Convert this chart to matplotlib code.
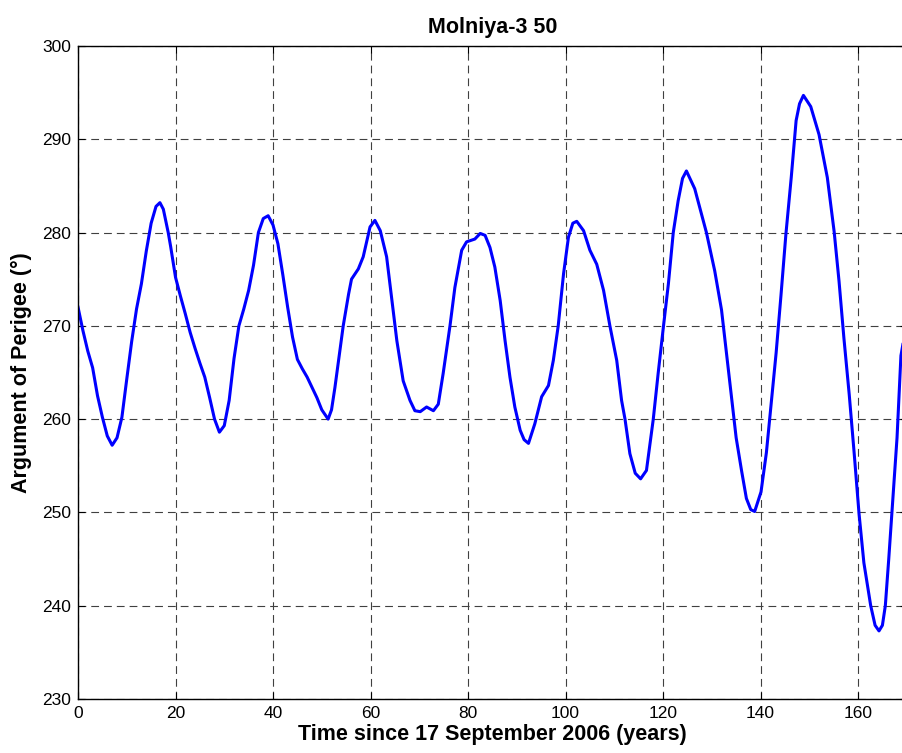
import numpy as np
import matplotlib
matplotlib.use("Agg")
import matplotlib.pyplot as plt

plt.rcParams['font.family'] = ['Liberation Sans', 'DejaVu Sans']

# argument of perigee history
t = [0, 1, 2, 3, 4, 5, 6, 7, 8, 9, 10, 11, 12, 13, 14, 15, 16, 16.8, 17.5, 18.5,
     19, 20, 21, 22, 23, 24, 25, 26, 27, 28, 29, 30, 31, 32, 33, 34, 35, 36, 37, 38,
     39, 40, 41, 42, 43, 44, 45, 46, 47, 48, 49, 50, 51.3, 52, 52.7, 53.5, 54.4, 55.5, 56.1, 57.5,
     58.5, 59.9, 60.9, 62, 63.3, 64.3, 65.4, 66.7, 68.1, 69.1, 70.2, 71.5, 72.9, 73.9, 74.9, 76.3,
     77.3, 78.7, 79.7, 81.4, 82.5, 83.5, 84.5, 85.5, 86.6, 87.6, 88.6, 89.6, 90.7, 91.5, 92.4, 93.7,
     95.1, 96.5, 97.5, 98.5, 99.6, 100.6, 101.5, 102.3, 103.7, 105, 106.4, 107.8, 109.1, 110.5, 111.5, 112.2,
     113.2, 114.3, 115.4, 116.6, 118, 119, 120.1, 121.1, 122.1, 123.1, 124, 124.8, 126.5, 128.9, 130.6, 132,
     133, 134, 135, 136.1, 137.1, 138, 138.8, 140.1, 141.2, 142.2, 143.2, 144.2, 145.2, 146.3, 147.3, 148,
     148.8, 150.3, 152, 153.7, 155.1, 156.1, 157.1, 158.2, 159.2, 160.2, 161.2, 162.6, 163.5, 164.3, 165, 165.6,
     166.3, 167, 168, 168.8, 169.2]
omega = [272.0, 269.5, 267.3, 265.5, 262.5, 260.2, 258.2, 257.2, 258.0, 260.2, 264.3, 268.3, 271.8, 274.5, 278.0, 281.0, 282.8, 283.2, 282.5, 280.0,
         278.5, 275.2, 273.2, 271.3, 269.3, 267.6, 266.0, 264.5, 262.3, 260.0, 258.6, 259.3, 262.0, 266.5, 270.0, 271.8, 273.8, 276.5, 280.0, 281.5,
         281.8, 280.8, 278.8, 275.5, 272.0, 268.8, 266.4, 265.4, 264.5, 263.4, 262.3, 261.0, 260.0, 261.0, 263.4, 266.5, 270.0, 273.4, 275.0, 276.1,
         277.4, 280.6, 281.3, 280.2, 277.4, 273.1, 268.4, 264.1, 262.0, 260.9, 260.8, 261.3, 260.9, 261.6, 264.9, 270.0,
         274.1, 278.1, 279.0, 279.3, 279.9, 279.7, 278.4, 276.3, 272.7, 268.4, 264.5, 261.3, 258.8, 257.8, 257.4, 259.5,
         262.4, 263.6, 266.3, 270.0, 275.6, 279.5, 281.0, 281.2, 280.2, 278.1, 276.6, 273.8, 270.0, 266.3, 262.0, 260.0,
         256.3, 254.2, 253.6, 254.5, 260.0, 264.9, 270.0, 274.5, 280.0, 283.4, 285.8, 286.6, 284.7, 280.0, 275.9, 271.7,
         267.1, 262.6, 258.0, 254.5, 251.5, 250.3, 250.1, 252.2, 256.4, 261.8, 267.1, 273.3, 279.8, 285.9, 292.0, 293.8,
         294.7, 293.5, 290.5, 285.9, 280.1, 274.8, 268.7, 262.6, 256.4, 249.9, 244.6, 240.0, 237.9, 237.3, 237.9, 240.0,
         245.0, 250.3, 258.0, 266.8, 268.0]

xticks = [0, 20, 40, 60, 80, 100, 120, 140, 160]
yticks = [230, 240, 250, 260, 270, 280, 290, 300]

fig = plt.figure(figsize=(9.02, 7.53), dpi=100)
ax = fig.add_axes([0.0865, 0.0717, 0.9188, 0.8673])

ax.plot(t, omega, color='#0000ff', linewidth=2.2)

ax.set_xlim(0, 170)
ax.set_ylim(230, 300)
ax.set_xticks(xticks)
ax.set_yticks(yticks)
ax.grid(True, color='#404040', linestyle=(0, (7, 4.5)), linewidth=0.8)
ax.tick_params(direction='in', length=5, labelsize=12.5, top=True, right=True, pad=5)
for s in ax.spines.values():
    s.set_linewidth(1.0)

ax.set_title('Molniya-3 50', fontsize=15.5, fontweight='bold', pad=9)
ax.set_xlabel('Time since 17 September 2006 (years)', fontsize=15.5, fontweight='bold', labelpad=2)
ax.set_ylabel('Argument of Perigee (°)', fontsize=15.5, fontweight='bold', labelpad=7)

fig.savefig('out.png', dpi=100)
